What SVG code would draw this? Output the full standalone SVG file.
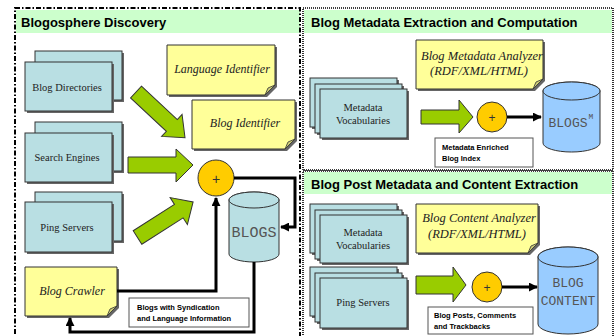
<svg xmlns="http://www.w3.org/2000/svg" width="615" height="336" viewBox="0 0 615 336">
<style>
.hdr{fill:#ccffcc}
.ttl{font-family:"Liberation Sans",Arial,sans-serif;font-weight:bold;font-size:13px;fill:#000}
.box{fill:#b9dfe3;stroke:#333;stroke-width:1}
.shd{fill:#666}
.note{fill:#ffff99;stroke:#333;stroke-width:1}
.fold{fill:#cccc77;stroke:#333;stroke-width:0.8}
.ntx{font-family:"Liberation Serif","Times New Roman",serif;font-size:10.5px;fill:#222;text-anchor:middle}
.itx{font-family:"Liberation Serif","Times New Roman",serif;font-style:italic;font-size:12.5px;fill:#222;text-anchor:middle}
.garr{fill:#99cc00;stroke:#333;stroke-width:1}
.plus{fill:#ffcc00;stroke:#333;stroke-width:1}
.ptx{font-family:"Liberation Sans",Arial,sans-serif;font-size:14px;fill:#333;text-anchor:middle}
.cyl{stroke:#333;stroke-width:1}
.ctx{font-family:"Liberation Mono","Courier New",monospace;fill:#555;text-anchor:middle}
.lbl{fill:#fff;stroke:#555;stroke-width:1}
.ltx{font-family:"Liberation Sans",Arial,sans-serif;font-weight:bold;font-size:7.5px;fill:#000}
.con{fill:none;stroke:#000;stroke-width:3}
</style>
<defs>
<marker id="ah" viewBox="0 0 10 10" refX="9" refY="5" markerWidth="3" markerHeight="3" orient="auto">
<path d="M0,0 L10,5 L0,10 Z" fill="#000"/>
</marker>
</defs>

<!-- panels -->
<g id="panel-discovery">
<rect class="hdr" x="16" y="10" width="284" height="23"/>
<rect x="15" y="8" width="285" height="340" fill="none" stroke="#000" stroke-width="2" stroke-dasharray="5,2,1.5,2"/>
<text class="ttl" x="21" y="27">Blogosphere Discovery</text>
</g>
<g id="panel-metadata">
<rect class="hdr" x="304" y="10" width="308" height="23"/>
<rect x="303" y="8" width="310" height="162" fill="none" stroke="#000" stroke-width="1.6" stroke-dasharray="1,1"/>
<text class="ttl" x="311" y="27">Blog Metadata Extraction and Computation</text>
</g>
<g id="panel-content">
<rect class="hdr" x="304" y="172" width="308" height="22"/>
<rect x="303" y="171" width="310" height="170" fill="none" stroke="#000" stroke-width="1.6" stroke-dasharray="1,1"/>
<text class="ttl" x="311" y="189">Blog Post Metadata and Content Extraction</text>
</g>

<!-- left panel nodes -->
<g id="blog-directories">
<rect class="shd" x="37" y="53" width="87" height="49"/>
<rect class="box" x="35" y="51" width="87" height="49"/>
<rect class="shd" x="27" y="64" width="87" height="49"/>
<rect class="box" x="25" y="62" width="87" height="49"/>
<text class="ntx" x="67" y="91">Blog Directories</text>
</g>
<g id="search-engines">
<rect class="shd" x="37" y="124" width="87" height="49"/>
<rect class="box" x="35" y="122" width="87" height="49"/>
<rect class="shd" x="27" y="135" width="87" height="49"/>
<rect class="box" x="25" y="133" width="87" height="49"/>
<text class="ntx" x="67" y="161">Search Engines</text>
</g>
<g id="ping-servers-1">
<rect class="shd" x="37" y="194" width="87" height="49"/>
<rect class="box" x="35" y="192" width="87" height="49"/>
<rect class="shd" x="27" y="204" width="87" height="50"/>
<rect class="box" x="25" y="202" width="87" height="50"/>
<text class="ntx" x="67" y="231">Ping Servers</text>
</g>
<g id="language-identifier">
<path class="shd" d="M169,47 H277 V87 L267,97 H169 Z"/>
<path class="note" d="M167,45 H275 V85 L265,95 H167 Z"/>
<path class="fold" d="M265,95 L268,88 L275,85 Z"/>
<text class="itx" x="222" y="73" style="font-size:12px">Language Identifier</text>
</g>
<g id="blog-identifier">
<path class="shd" d="M194,102 H297 V141 L287,151 H194 Z"/>
<path class="note" d="M192,100 H295 V139 L285,149 H192 Z"/>
<path class="fold" d="M285,149 L288,142 L295,139 Z"/>
<text class="itx" x="245" y="127" style="font-size:12px">Blog Identifier</text>
</g>
<g id="blog-crawler">
<path class="shd" d="M27,269 H119 V308 L109,318 H27 Z"/>
<path class="note" d="M25,267 H117 V306 L107,316 H25 Z"/>
<path class="fold" d="M107,316 L110,309 L117,306 Z"/>
<text class="itx" x="72" y="295" style="font-size:12px">Blog Crawler</text>
</g>
<g id="merge-1">
<circle class="plus" cx="216" cy="178" r="18"/>
<text class="ptx" x="216" y="184">+</text>
</g>
<g id="blogs">
<path class="cyl" fill="#b9dfe3" d="M229,200 V254 A25,8 0 0 0 279,254 V200 A25,8 0 0 0 229,200 Z"/>
<ellipse class="cyl" fill="#b9dfe3" cx="254" cy="200" rx="25" ry="8"/>
<text class="ctx" x="254" y="237" style="font-size:15px">BLOGS</text>
</g>
<g id="label-syndication">
<rect class="lbl" x="129" y="298" width="120" height="29"/>
<text class="ltx" x="137" y="310">Blogs with Syndication</text>
<text class="ltx" x="137" y="321">and Language Information</text>
</g>

<!-- right top nodes -->
<g id="metadata-vocab-1">
<rect class="shd" x="312" y="80" width="87" height="49"/>
<rect class="box" x="310" y="78" width="87" height="49"/>
<rect class="shd" x="317" y="86" width="87" height="49"/>
<rect class="box" x="315" y="84" width="87" height="49"/>
<rect class="shd" x="322" y="91" width="87" height="49"/>
<rect class="box" x="320" y="89" width="87" height="49"/>
<text class="ntx" x="363" y="111">Metadata</text>
<text class="ntx" x="363" y="124">Vocabularies</text>
</g>
<g id="metadata-analyzer">
<path class="shd" d="M418,42 H545 V81 L535,91 H418 Z"/>
<path class="note" d="M416,40 H543 V79 L533,89 H416 Z"/>
<path class="fold" d="M533,89 L536,82 L543,79 Z"/>
<text class="itx" x="482" y="60">Blog Metadata Analyzer</text>
<text class="itx" x="479" y="75">(RDF/XML/HTML)</text>
</g>
<g id="merge-2">
<circle class="plus" cx="492" cy="117" r="15"/>
<text class="ptx" x="492" y="122" style="font-size:12px">+</text>
</g>
<g id="blogs-m">
<path class="cyl" fill="#99ccff" d="M543,91 V143 A28.5,9 0 0 0 600,143 V91 A28.5,9 0 0 0 543,91 Z"/>
<ellipse class="cyl" fill="#99ccff" cx="571.5" cy="91" rx="28.5" ry="9"/>
<text class="ctx" x="568" y="127" style="font-size:13px">BLOGS</text>
<text class="ctx" x="591" y="119" style="font-size:8px">M</text>
</g>
<g id="label-enriched">
<rect class="lbl" x="435" y="138" width="98" height="29"/>
<text class="ltx" x="442" y="150">Metadata Enriched</text>
<text class="ltx" x="442" y="161">Blog Index</text>
</g>

<!-- right bottom nodes -->
<g id="metadata-vocab-2">
<rect class="shd" x="312" y="206" width="87" height="49"/>
<rect class="box" x="310" y="204" width="87" height="49"/>
<rect class="shd" x="317" y="212" width="87" height="49"/>
<rect class="box" x="315" y="210" width="87" height="49"/>
<rect class="shd" x="322" y="217" width="87" height="48"/>
<rect class="box" x="320" y="215" width="87" height="48"/>
<text class="ntx" x="363" y="236">Metadata</text>
<text class="ntx" x="363" y="249">Vocabularies</text>
</g>
<g id="ping-servers-2">
<rect class="shd" x="312" y="269" width="87" height="49"/>
<rect class="box" x="310" y="267" width="87" height="49"/>
<rect class="shd" x="317" y="275" width="87" height="49"/>
<rect class="box" x="315" y="273" width="87" height="49"/>
<rect class="shd" x="322" y="280" width="87" height="50"/>
<rect class="box" x="320" y="278" width="87" height="50"/>
<text class="ntx" x="363" y="306">Ping Servers</text>
</g>
<g id="content-analyzer">
<path class="shd" d="M418,206 H540 V245 L530,255 H418 Z"/>
<path class="note" d="M416,204 H538 V243 L528,253 H416 Z"/>
<path class="fold" d="M528,253 L531,246 L538,243 Z"/>
<text class="itx" x="479" y="222">Blog Content Analyzer</text>
<text class="itx" x="477" y="238">(RDF/XML/HTML)</text>
</g>
<g id="merge-3">
<circle class="plus" cx="487" cy="287" r="15"/>
<text class="ptx" x="487" y="292" style="font-size:12px">+</text>
</g>
<g id="blog-content">
<path class="cyl" fill="#99ccff" d="M538,257 V324 A30,10 0 0 0 598,324 V257 A30,10 0 0 0 538,257 Z"/>
<ellipse class="cyl" fill="#99ccff" cx="568" cy="257" rx="30" ry="10"/>
<text class="ctx" x="568" y="287" style="font-size:13px">BLOG</text>
<text class="ctx" x="568" y="305" style="font-size:13px">CONTENT</text>
</g>
<g id="label-posts">
<rect class="lbl" x="428" y="307" width="105" height="27"/>
<text class="ltx" x="434" y="318">Blog Posts, Comments</text>
<text class="ltx" x="434" y="329">and Trackbacks</text>
</g>

<!-- connectors -->
<g id="connectors">
<polygon class="garr" transform="translate(136,92) rotate(43)" points="0,-8 49,-8 49,-15 67,0 49,15 49,8 0,8"/>
<polygon class="garr" points="128,157 176,157 176,149 193,165 176,182 176,173 128,173"/>
<polygon class="garr" transform="translate(137.5,237.5) rotate(-32.6)" points="0,-8 49,-8 49,-16 66,0 49,16 49,8 0,8"/>
<polygon class="garr" points="421,110 459,110 459,100 473,117 459,133 459,124 421,124"/>
<polygon class="garr" points="416,276 453,276 453,267 466,285 453,302 453,294 416,294"/>
<path class="con" d="M234,178 H295 V227 H281" marker-end="url(#ah)"/>
<path class="con" d="M117,291 H216 V198" marker-end="url(#ah)"/>
<path class="con" d="M254,262 V332 H70 V318" marker-end="url(#ah)"/>
<path class="con" d="M507,117 H541" marker-end="url(#ah)"/>
<path class="con" d="M502,287 H537" marker-end="url(#ah)"/>
</g>
</svg>
